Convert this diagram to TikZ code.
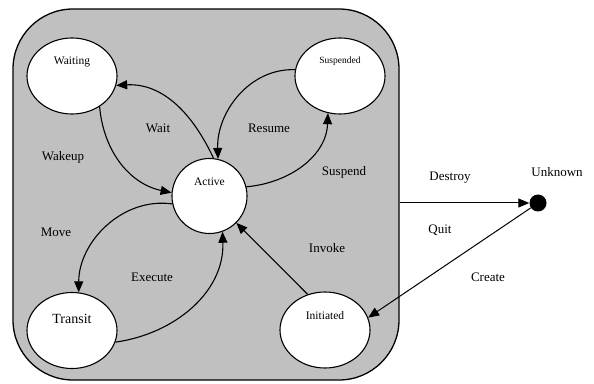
\documentclass[tikz,border=0pt]{standalone}
\usepackage{fontspec}
\setmainfont{Liberation Serif}
\usetikzlibrary{shapes.geometric,arrows.meta,positioning}

\definecolor{boxgray}{RGB}{192,192,192}

\tikzset{
    sysbox/.style={rectangle, draw, fill=boxgray, rounded corners=60pt, line width=1.3pt, inner sep=0pt},
    statenode/.style={ellipse, draw, fill=white, line width=1.1pt, minimum width=90pt, minimum height=76pt, inner sep=0pt},
    statetext/.style={font=\fontsize{11.5}{13}\selectfont},
    edgelabel/.style={font=\fontsize{13}{15}\selectfont},
    trans/.style={line width=1.1pt, -{Triangle[length=11pt,width=9pt]}}
}

\begin{document}
\begin{tikzpicture}[x=1pt, y=1pt]
            \useasboundingbox (0,0) rectangle (594,383);

            \node[sysbox, minimum width=386pt, minimum height=371pt] (system) at (206,188.5) {};

            \node[statenode, label={[statetext, yshift=14pt]center:Waiting}] (waiting) at (72,307) {};
            \node[statenode, label={[statetext, font=\fontsize{9.5}{11}\selectfont, yshift=15pt]center:Suspended}] (suspended) at (340,307) {};
            \node[statenode, circle, minimum size=75pt, label={[statetext, yshift=14pt]center:Active}] (active) at (209.5,187) {};
            \node[statenode, label={[statetext, font=\fontsize{14}{16}\selectfont, yshift=12pt]center:Transit}] (transit) at (72,52.5) {};
            \node[statenode, label={[statetext, yshift=14pt]center:Initiated}] (initiated) at (325,53) {};
            \node[circle, fill=black, minimum size=17pt, inner sep=0pt] (unknown) at (538,180) {};

            % transitions inside the system
            \draw[trans] (active.84) to[out=115, in=3] (waiting.-12);
            \draw[trans] (waiting.-48) to[out=-85, in=168] (active.175);
            \draw[trans] (suspended.172) to[out=178, in=92] (active.77);
            \draw[trans] (active.14) to[out=5, in=-92] (suspended.-108);
            \draw[trans] (active.192) to[out=172, in=90] (transit.80);
            \draw[trans] (transit.-15) to[out=8, in=-88] (active.-70);
            \draw[trans] (initiated.116) -- (active);

            % transitions to the outside
            \draw[trans, line width=1pt] (system.east |- unknown) -- (unknown);
            \draw[trans, line width=1pt] (unknown) -- (initiated.16);

            \node[edgelabel] (lwait) at (158,255) {Wait};
            \node[edgelabel] (lresume) at (269,255) {Resume};
            \node[edgelabel] (lwakeup) at (63,226) {Wakeup};
            \node[edgelabel] (lsuspend) at (344,211) {Suspend};
            \node[edgelabel] (lmove) at (56,151) {Move};
            \node[edgelabel] (lexecute) at (152,106) {Execute};
            \node[edgelabel] (linvoke) at (327,135) {Invoke};
            \node[edgelabel] (ldestroy) at (450,205) {Destroy};
            \node[edgelabel] (lquit) at (440,153) {Quit};
            \node[edgelabel] (lcreate) at (488,106) {Create};
            \node[edgelabel] (lunknown) at (557,211) {Unknown};
        \end{tikzpicture}
\end{document}
